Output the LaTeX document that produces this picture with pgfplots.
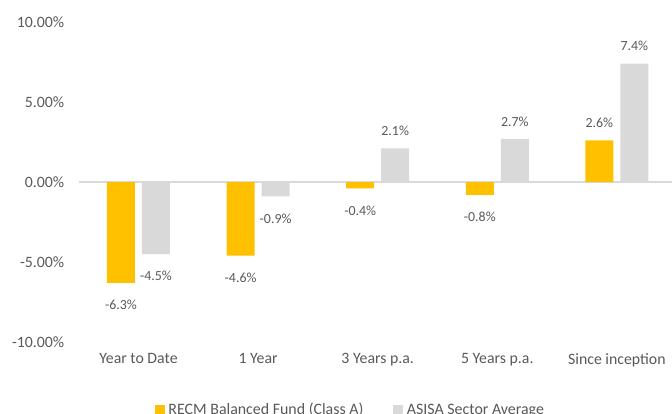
\documentclass[border=0pt]{standalone}
\usepackage{fontspec}
\setmainfont{Carlito}
\usepackage{pgfplots}
\pgfplotsset{compat=1.18}
\definecolor{recm}{HTML}{FFC000}
\definecolor{asisa}{HTML}{D9D9D9}
\definecolor{txt}{HTML}{595959}
\begin{document}
\begin{tikzpicture}
\path[use as bounding box] (-78.7bp,-72bp) rectangle (593.3bp,342bp);
\begin{axis}[
  at={(0,0)}, anchor=south west,
  scale only axis, width=598bp, height=320bp,
  xmin=-0.5, xmax=4.5, ymin=-10, ymax=10,
  ybar=7bp, bar width=28bp,
  axis line style={draw=none}, major tick length=0,
  xtick={0,1,2,3,4},
  xticklabels={Year to Date,1 Year,3 Years p.a.,5 Years p.a.,Since inception},
  ytick={-10,-5,0,5,10},
  yticklabels={-10.00\%,-5.00\%,0.00\%,5.00\%,10.00\%},
  ticklabel style={font=\fontsize{15.8bp}{18bp}\selectfont, text=txt},
  yticklabel style={xshift=-11bp},
  xticklabel style={yshift=-8bp},
  extra y ticks={0}, extra y tick labels={},
  extra y tick style={grid=major, major grid style={draw=asisa, line width=1.4bp}},
  /pgf/number format/assume math mode=true,
  visualization depends on={rawy \as \rawy},
  nodes near coords={\pgfmathprintnumber[fixed,precision=1,fixed zerofill]{\pgfplotspointmeta}\%},
  nodes near coords style={font=\fontsize{13.9bp}{16bp}\selectfont, text=txt,
     yshift={ifthenelse(\rawy<0,-14,9)}},
  legend columns=2,
  legend style={draw=none, at={(axis description cs:0.4545,0)}, anchor=north, yshift=-57bp,
     font=\fontsize{15.9bp}{18bp}\selectfont, text=txt,
     /tikz/every odd column/.append style={column sep=1.5bp},
     /tikz/every even column/.append style={column sep=28bp}},
]
\addplot[fill=recm, draw=none, legend image code/.code={\fill[recm] (0bp,-5bp) rectangle (10bp,5bp);}]
  coordinates {(0,-6.3) (1,-4.6) (2,-0.4) (3,-0.8) (4,2.6)};
\addlegendentry{RECM Balanced Fund (Class A)}
\addplot[fill=asisa, draw=none, legend image code/.code={\fill[asisa] (0bp,-5bp) rectangle (10bp,5bp);}]
  coordinates {(0,-4.5) (1,-0.9) (2,2.1) (3,2.7) (4,7.4)};
\addlegendentry{ASISA Sector Average}
\end{axis}
\end{tikzpicture}
\end{document}
